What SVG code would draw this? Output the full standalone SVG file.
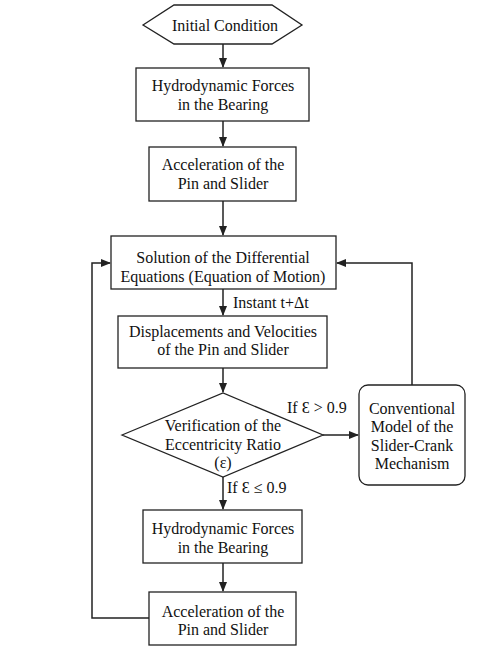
<svg xmlns="http://www.w3.org/2000/svg" width="499" height="663" viewBox="0 0 499 663">
<style>
.n{fill:#fff;stroke:#222;stroke-width:1.3}
text{font-family:'Liberation Serif','DejaVu Serif',serif;font-size:16px;fill:#111}
.t{text-anchor:middle}
.c{fill:none;stroke:#222;stroke-width:1.5}
</style>
<defs>
<marker id="a" markerWidth="10" markerHeight="10" refX="9" refY="5" orient="auto" markerUnits="userSpaceOnUse">
<path d="M0,1 L10,5 L0,9 Z" fill="#222"/>
</marker>
</defs>
<rect width="499" height="663" fill="#fff"/>
<g id="connectors">
<line class="c" x1="223" y1="44" x2="223" y2="67" marker-end="url(#a)"/>
<line class="c" x1="223" y1="121" x2="223" y2="146" marker-end="url(#a)"/>
<line class="c" x1="223" y1="201" x2="223" y2="235" marker-end="url(#a)"/>
<line class="c" x1="223" y1="289" x2="223" y2="315" marker-end="url(#a)"/>
<line class="c" x1="223" y1="368" x2="223" y2="392" marker-end="url(#a)"/>
<line class="c" x1="223" y1="477" x2="223" y2="509" marker-end="url(#a)"/>
<line class="c" x1="223" y1="563" x2="223" y2="591" marker-end="url(#a)"/>
<line class="c" x1="323" y1="435" x2="358" y2="435" marker-end="url(#a)"/>
<polyline class="c" points="412,385 412,263 337,263" marker-end="url(#a)"/>
<polyline class="c" points="149,618 92,618 92,263 110,263" marker-end="url(#a)"/>
<text x="233" y="308">Instant t+Δt</text>
<text x="287" y="413">If Ɛ &gt; 0.9</text>
<text x="227" y="493">If Ɛ ≤ 0.9</text>
</g>
<g id="initial">
<polygon class="n" points="143,25 174,5 272,5 302,25 272,44 174,44"/>
<text class="t" x="225" y="31">Initial Condition</text>
</g>
<g id="forces1">
<rect class="n" x="136" y="68" width="173" height="53"/>
<text class="t" x="223" y="91">Hydrodynamic Forces</text>
<text class="t" x="223" y="110">in the Bearing</text>
</g>
<g id="accel1">
<rect class="n" x="149" y="147" width="147" height="54"/>
<text class="t" x="223" y="170">Acceleration of the</text>
<text class="t" x="223" y="189">Pin and Slider</text>
</g>
<g id="solution">
<rect class="n" x="111" y="236" width="225" height="53"/>
<text class="t" x="223" y="263">Solution of the Differential</text>
<text class="t" x="223" y="282">Equations (Equation of Motion)</text>
</g>
<g id="displacements">
<rect class="n" x="118" y="316" width="209" height="52"/>
<text class="t" x="223" y="337">Displacements and Velocities</text>
<text class="t" x="223" y="355">of the Pin and Slider</text>
</g>
<g id="verification">
<polygon class="n" points="122,435 223,393 323,435 223,477"/>
<text class="t" x="223" y="431">Verification of the</text>
<text class="t" x="223" y="450">Eccentricity Ratio</text>
<text class="t" x="223" y="468">(ε)</text>
</g>
<g id="conventional">
<rect class="n" x="359" y="385" width="106" height="100" rx="9"/>
<text class="t" x="412" y="414">Conventional</text>
<text class="t" x="412" y="432">Model of the</text>
<text class="t" x="412" y="451">Slider-Crank</text>
<text class="t" x="412" y="469">Mechanism</text>
</g>
<g id="forces2">
<rect class="n" x="143" y="510" width="159" height="53"/>
<text class="t" x="223" y="534">Hydrodynamic Forces</text>
<text class="t" x="223" y="553">in the Bearing</text>
</g>
<g id="accel2">
<rect class="n" x="149" y="592" width="147" height="53"/>
<text class="t" x="223" y="617">Acceleration of the</text>
<text class="t" x="223" y="635">Pin and Slider</text>
</g>
</svg>
